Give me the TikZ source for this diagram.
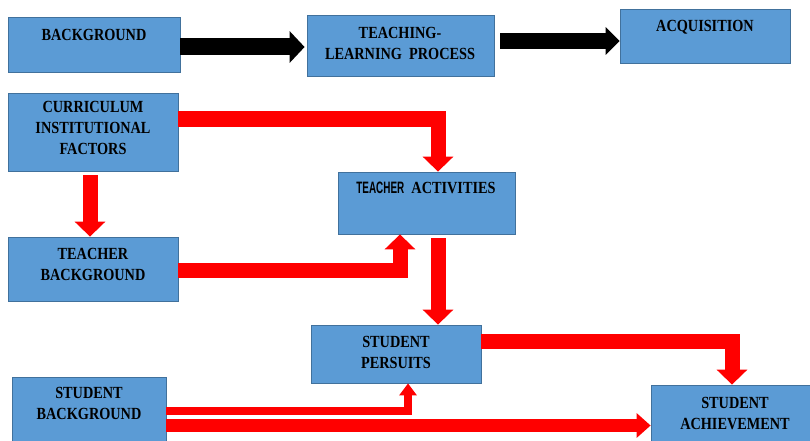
\documentclass[tikz,border=0pt]{standalone}
\usepackage{fontspec}
\setmainfont{Liberation Serif}[FakeStretch=0.84]
\newfontfamily\narrowsans{Liberation Sans}[FakeStretch=0.6]
\usetikzlibrary{arrows.meta}
\definecolor{boxfill}{RGB}{91,155,213}
\definecolor{boxedge}{RGB}{65,113,156}
\definecolor{arrred}{RGB}{255,0,0}
\tikzset{
  box/.style={draw=boxedge, fill=boxfill, line width=0.8pt, inner sep=0pt, minimum width=#1},
  lbl/.style={font=\fontsize{17}{21}\selectfont\bfseries, align=center, inner sep=0pt, text=black},
  blk/.style={draw=black, line width=17pt, line join=miter, -{Triangle[width=31pt,length=15pt]}},
  redarr/.style={draw=arrred, line width=15pt, line join=miter, -{Triangle[width=30pt,length=15pt]}},
  thinred/.style={draw=arrred, line width=8pt, line join=miter, -{Triangle[width=17pt,length=12pt]}}
}
\begin{document}
\begin{tikzpicture}[x=1pt,y=-1pt]
\useasboundingbox (0,0) rectangle (810,441);
% boxes
\node[box=172pt, minimum height=55pt] (bg) at (94,44.5) {};
\node[box=187pt, minimum height=61pt] (tlp) at (400.5,45.5) {};
\node[box=170pt, minimum height=54pt] (acq) at (705,36) {};
\node[box=170pt, minimum height=78pt] (cur) at (93,132) {};
\node[box=177pt, minimum height=62pt] (ta) at (426.5,203) {};
\node[box=170pt, minimum height=64pt] (tb) at (93,269) {};
\node[box=170pt, minimum height=58pt] (sp) at (396,354) {};
\node[box=154pt, minimum height=66pt] (sb) at (89,410) {};
\node[box=161pt, minimum height=58pt] (sa) at (731.5,414) {};
% texts
\node[lbl] (bgt) at (94,34.5) {BACKGROUND};
\node[lbl] (tlpt) at (400,43) {TEACHING-\\LEARNING\ \ PROCESS};
\node[lbl] (acqt) at (705,27) {ACQUISITION};
\node[lbl] (curt) at (93,128) {CURRICULUM\\INSTITUTIONAL\\FACTORS};
\node[lbl] (tat) at (426,188) {{\narrowsans\fontsize{16.5}{18}\selectfont TEACHER}\ \ ACTIVITIES};
\node[lbl] (tbt) at (93,264) {TEACHER\\BACKGROUND};
\node[lbl] (spt) at (396,352) {STUDENT\\PERSUITS};
\node[lbl] (sbt) at (89,403) {STUDENT\\BACKGROUND};
\node[lbl] (sat) at (735,413) {STUDENT\\ACHIEVEMENT};
% black arrows
\draw[blk] ([yshift=-2.5pt]bg.east) -- ([yshift=-1.5pt,xshift=-2pt]tlp.west);
\draw[blk, line width=16pt, -{Triangle[width=27pt,length=14pt]}, shorten <=6pt] ([yshift=4.5pt]tlp.east) -- ([yshift=-5pt]acq.west);
% red arrows
\draw[redarr] ([yshift=13pt]cur.east) -| ([xshift=11.5pt]ta.north);
\draw[redarr, shorten <=4pt] ([xshift=-3pt]cur.south) -- ([xshift=-3pt]tb.north);
\draw[redarr] ([yshift=-1pt]tb.east) -| ([xshift=-26.5pt]ta.south);
\draw[redarr, shorten <=4pt] ([xshift=11.5pt]ta.south) -- ([xshift=42pt]sp.north);
\draw[redarr] ([yshift=13pt]sp.east) -| ([xshift=0.5pt]sa.north);
\draw[thinred] ([yshift=-1pt]sb.east) -| ([xshift=12pt]sp.south);
\draw[redarr, line width=13pt, -{Triangle[width=24pt,length=14pt]}] ([yshift=-15.5pt]sb.east) -- ([yshift=-11.5pt]sa.west);
\end{tikzpicture}
\end{document}
